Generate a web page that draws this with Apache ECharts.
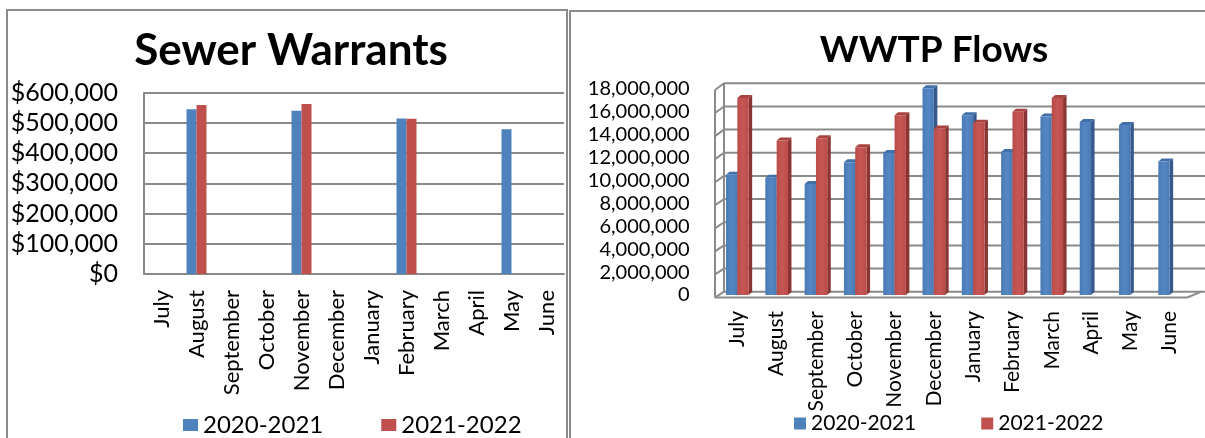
<!DOCTYPE html>
<html><head><meta charset="utf-8">
<script src="https://cdn.jsdelivr.net/npm/echarts@6/dist/echarts.min.js"></script>
<style>html,body{margin:0;padding:0;background:#fff}#c{width:1205px;height:438px}</style>
</head><body><div id="c"></div>
<script>
// ---- data ----
const months = ['July','August','September','October','November','December','January','February','March','April','May','June'];
const seriesNames = ['2020-2021','2021-2022'];
const warrants2021 = [null,545000,null,null,540000,null,null,515000,null,null,479000,null];
const warrants2122 = [null,559000,null,null,563000,null,null,514000,null,null,null,null];
const flows2021 = [10500000,10250000,9700000,11600000,12400000,18050000,15700000,12500000,15600000,15100000,14850000,11650000];
const flows2122 = [17200000,13500000,13700000,12900000,15700000,14550000,15050000,16000000,17200000];
const warrantMax = 600000, warrantStep = 100000;
const flowTicks = [0,2000000,4000000,6000000,8000000,10000000,12000000,14000000,16000000,18000000];

const BLUE = '#4F81BD', RED = '#C0504D';
const GRID = '#8a8a8a';
const FONT = 'Lato';

function fmtMoney(v){ return '$' + v.toLocaleString('en-US'); }
function fmtNum(v){ return v.toLocaleString('en-US'); }

const DX = 3.5, DY = -3;
function bar3d(slot, front, side, top){
  return function(params, api){
    const cat = api.value(0), val = api.value(1);
    const base = api.coord([cat, 0]);
    const tp = api.coord([cat, val]);
    const band = api.size([1, 0])[0];
    const bw = band * 0.288;
    const x0 = base[0] - bw + slot * bw;
    const x1 = x0 + bw;
    return {
      type: 'group',
      children: [
        {type:'polygon', shape:{points:[[x1,tp[1]],[x1+DX,tp[1]+DY],[x1+DX,base[1]+DY],[x1,base[1]]]}, style:{fill:side}},
        {type:'polygon', shape:{points:[[x0,tp[1]],[x0+DX,tp[1]+DY],[x1+DX,tp[1]+DY],[x1,tp[1]]]}, style:{fill:top}},
        {type:'rect', shape:{x:x0, y:tp[1], width:bw, height:base[1]-tp[1]},
          style:{fill:new echarts.graphic.LinearGradient(0,0,1,0,[{offset:0,color:front[0]},{offset:0.5,color:front[1]},{offset:1,color:front[0]}])}}
      ]
    };
  };
}

function walls(params, api){
  const cs = params.coordSys;
  const v = api.value(0);
  const y = api.coord([0, v])[1];
  const y0 = api.coord([0, 0])[1];
  const yT = api.coord([0, flowTicks[flowTicks.length-1]])[1];
  const frac = (y0 - y) / (y0 - yT);
  const xf = cs.x - 2.7, xb = cs.x + 6.3;
  const yf = y + 2.5 - frac * 1.4;
  const yb = y - 3.3 - frac * 2.3;
  const ls = {stroke: GRID, lineWidth: 2};
  const ch = [
    {type:'line', shape:{x1:xb, y1:yb, x2:1205, y2:yb}, style:ls},
    {type:'line', shape:{x1:xf, y1:yf, x2:xb, y2:yb}, style:ls}
  ];
  if (v === 0) {
    const yTf = yT + 2.5 - 1.4, yTb = yT - 3.3 - 2.3;
    ch.push({type:'line', shape:{x1:xf, y1:yf, x2:cs.x+cs.width-2, y2:yf}, style:ls});
    ch.push({type:'line', shape:{x1:cs.x+cs.width-2, y1:yf, x2:cs.x+cs.width+12, y2:yb}, style:ls});
    ch.push({type:'line', shape:{x1:xf, y1:yf, x2:xf, y2:yTf}, style:ls});
    ch.push({type:'line', shape:{x1:xb, y1:yb, x2:xb, y2:yTb}, style:ls});
  }
  return {type:'group', children: ch};
}

const chart = echarts.init(document.getElementById('c'), null, {renderer:'canvas'});
chart.setOption({
  backgroundColor: '#fff',
  animation: false,
  textStyle: {fontFamily: FONT, color: '#000'},
  graphic: [
    {type:'rect', shape:{x:7, y:10, width:560, height:440}, style:{fill:'none', stroke:'#8c8c8c', lineWidth:2}, z:-10},
    {type:'rect', shape:{x:570, y:11, width:660, height:440}, style:{fill:'none', stroke:'#8c8c8c', lineWidth:2}, z:-10}
  ],
  title: [
    {text:'Sewer Warrants', left:286, top:24, textAlign:'center',
     textStyle:{fontFamily:FONT, fontWeight:'bold', fontSize:44, color:'#000'}},
    {text:'WWTP Flows', left:929, top:27, textAlign:'center',
     textStyle:{fontFamily:FONT, fontWeight:'bold', fontSize:37, color:'#000'}}
  ],
  legend: [
    {data:[{name:seriesNames[0], itemStyle:{color:BLUE}},{name:seriesNames[1], itemStyle:{color:RED}}],
     left:178, top:408, itemWidth:15, itemHeight:12, itemGap:58, icon:'rect', selectedMode:false,
     textStyle:{fontFamily:FONT, fontSize:24, color:'#000'}},
    {data:[{name:seriesNames[0], itemStyle:{color:BLUE}},{name:seriesNames[1], itemStyle:{color:RED}}],
     left:789, top:408, itemWidth:12, itemHeight:12, itemGap:65, icon:'rect', selectedMode:false,
     textStyle:{fontFamily:FONT, fontSize:21, color:'#000'}}
  ],
  grid: [
    {left:144, top:92.7, width:420, height:181.3, containLabel:false},
    {left:717.7, top:88.9, width:471.6, height:206.1, containLabel:false}
  ],
  xAxis: [
    {type:'category', gridIndex:0, data:months,
     axisLine:{show:true, lineStyle:{color:GRID, width:2}}, axisTick:{show:false},
     axisLabel:{rotate:90, margin:16, interval:0, fontFamily:FONT, fontSize:22, color:'#000'}},
    {type:'category', gridIndex:1, data:months,
     axisLine:{show:false}, axisTick:{show:false},
     axisLabel:{rotate:90, margin:16, interval:0, fontFamily:FONT, fontSize:21, color:'#000'}}
  ],
  yAxis: [
    {type:'value', gridIndex:0, min:0, max:warrantMax, interval:warrantStep,
     axisLine:{show:true, lineStyle:{color:GRID, width:2}}, axisTick:{show:false},
     splitLine:{show:true, lineStyle:{color:GRID, width:2}},
     axisLabel:{margin:26, formatter:fmtMoney, fontFamily:FONT, fontSize:25, color:'#000'}},
    {type:'value', gridIndex:1, min:flowTicks[0], max:flowTicks[flowTicks.length-1], interval:flowTicks[1]-flowTicks[0],
     axisLine:{show:false}, axisTick:{show:false}, splitLine:{show:false},
     axisLabel:{margin:28, formatter:fmtNum, fontFamily:FONT, fontSize:20, color:'#000', padding:[5,0,0,0]}}
  ],
  series: [
    {name:seriesNames[0], type:'bar', xAxisIndex:0, yAxisIndex:0, data:warrants2021, barWidth:10, barGap:'0%', itemStyle:{color:BLUE}},
    {name:seriesNames[1], type:'bar', xAxisIndex:0, yAxisIndex:0, data:warrants2122, barWidth:10, barGap:'0%', itemStyle:{color:RED}},
    {name:'walls', type:'custom', xAxisIndex:1, yAxisIndex:1, data:flowTicks.map(v=>[v]), renderItem:walls, silent:true, z:1,
     encode:{y:0}},
    {name:seriesNames[0], type:'custom', xAxisIndex:1, yAxisIndex:1, z:2,
     data:flows2021.map((v,i)=>[i,v]), itemStyle:{color:BLUE},
     renderItem:bar3d(0, ['#4A7AB4','#5587C4'], '#36598A', '#416FA8'), encode:{x:0,y:1}},
    {name:seriesNames[1], type:'custom', xAxisIndex:1, yAxisIndex:1, z:3,
     data:flows2122.map((v,i)=>[i,v]), itemStyle:{color:RED},
     renderItem:bar3d(1, ['#B94B48','#C75754'], '#8A3533', '#A94340'), encode:{x:0,y:1}}
  ]
});
</script>
</body></html>
